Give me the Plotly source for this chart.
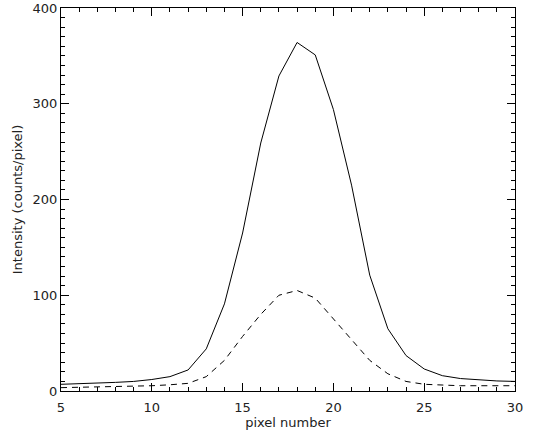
import plotly.graph_objects as go

pixel = list(range(5, 31))
total = [7, 7.5, 8, 9, 10, 12, 15, 22, 44, 91, 165, 259, 329, 364, 351,
         294, 215, 121, 65, 37, 23, 16, 13, 11.5, 10.5, 10]
component = [3.5, 3.8, 4, 4.3, 4.8, 5.5, 6.5, 8, 15, 32, 57, 80, 100, 105, 97,
             75, 53, 32, 18, 10, 7, 6, 5.5, 5.5, 5.5, 5.5]

x_range = [5, 30]
y_range = [0, 400]
font_family = "DejaVu Sans"

fig = go.Figure()
fig.add_trace(go.Scatter(x=pixel, y=total, mode="lines",
                         line=dict(color="black", width=1)))
fig.add_trace(go.Scatter(x=pixel, y=component, mode="lines",
                         line=dict(color="black", width=1, dash="6px,5px")))

axis_common = dict(
    showgrid=False, zeroline=False, showline=True, linecolor="black",
    linewidth=1, mirror="allticks", ticks="inside", ticklen=8,
    tickcolor="black", tickwidth=1, automargin=False,
    tickfont=dict(family=font_family, size=13, color="#222"),
)

fig.update_layout(
    xaxis=dict(range=x_range, dtick=5, tick0=5, ticklabelstandoff=4,
               title=dict(text="pixel number", standoff=2,
                          font=dict(family=font_family, size=13, color="#222")),
               **axis_common),
    yaxis=dict(range=y_range, dtick=100,
               title=dict(text="Intensity (counts/pixel)", standoff=7,
                          font=dict(family=font_family, size=13, color="#222")),
               **axis_common),
    # minor tick axes
    xaxis2=dict(overlaying="x", range=x_range, dtick=1, tick0=5, ticks="inside",
                ticklen=4, tickcolor="black", tickwidth=1, showticklabels=False,
                showgrid=False, zeroline=False, showline=False, mirror="ticks",
                automargin=False),
    yaxis2=dict(overlaying="y", range=y_range, dtick=10, ticks="inside",
                ticklen=4, tickcolor="black", tickwidth=1, showticklabels=False,
                showgrid=False, zeroline=False, showline=False, mirror="ticks",
                automargin=False),
    width=534, height=433, showlegend=False,
    margin=dict(l=61, r=19, t=8, b=42),
    plot_bgcolor="white", paper_bgcolor="white",
    font=dict(family=font_family, size=13, color="#222"),
)
# invisible trace to activate the minor-tick axes
fig.add_trace(go.Scatter(x=[x_range[0]], y=[y_range[0]], xaxis="x2", yaxis="y2",
                         mode="markers", marker=dict(opacity=0),
                         hoverinfo="skip"))

fig.write_html("out.html", config={"displayModeBar": False},
               post_script="document.body.style.margin='0px';")
